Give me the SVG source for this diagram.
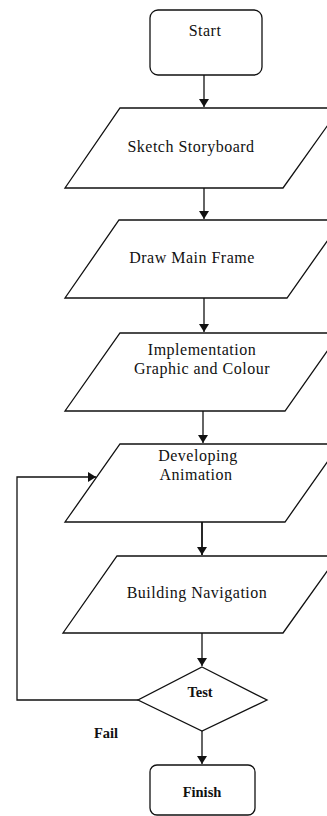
<svg xmlns="http://www.w3.org/2000/svg" width="327" height="816" viewBox="0 0 327 816">
<style>
.n{fill:#fff;stroke:#111;stroke-width:1.3}
.t{font-family:'Liberation Serif','DejaVu Serif',serif;font-size:16px;letter-spacing:0.5px;fill:#111;text-anchor:middle}
.s{font-family:'Liberation Serif','DejaVu Serif',serif;font-size:14.5px;font-weight:bold;fill:#111;text-anchor:middle}
.c{fill:none;stroke:#111;stroke-width:1.3}
</style>
<defs>
<marker id="ah" viewBox="0 0 8 10" refX="8" refY="5" markerWidth="8" markerHeight="10" markerUnits="userSpaceOnUse" orient="auto">
<path d="M0,0 L8,5 L0,10 Z" fill="#111"/>
</marker>
</defs>
<g id="connectors">
<line class="c" x1="204" y1="75" x2="204" y2="107" marker-end="url(#ah)"/>
<line class="c" x1="204" y1="188" x2="204" y2="219" marker-end="url(#ah)"/>
<line class="c" x1="204" y1="298" x2="204" y2="332" marker-end="url(#ah)"/>
<line class="c" x1="203" y1="411" x2="203" y2="443" marker-end="url(#ah)"/>
<line class="c" x1="202" y1="522" x2="202" y2="555" marker-end="url(#ah)" style="stroke-width:1.8"/>
<line class="c" x1="202" y1="633" x2="202" y2="666" marker-end="url(#ah)"/>
<line class="c" x1="202" y1="731" x2="202" y2="764" marker-end="url(#ah)"/>
<polyline class="c" points="138,700 17,700 17,477 96,477" marker-end="url(#ah)"/>
</g>
<g id="start">
<rect class="n" x="150" y="10" width="112" height="65" rx="8"/>
<text class="t" x="205" y="36">Start</text>
</g>
<g id="sketch">
<polygon class="n" points="120,108 340,108 283,188 65,188"/>
<text class="t" x="191" y="152">Sketch Storyboard</text>
</g>
<g id="draw">
<polygon class="n" points="119,220 342,220 287,298 65,298"/>
<text class="t" x="192" y="263">Draw Main Frame</text>
</g>
<g id="impl">
<polygon class="n" points="120,333 340,333 285,411 65,411"/>
<text class="t" x="202" y="355">Implementation</text>
<text class="t" x="202" y="374">Graphic and Colour</text>
</g>
<g id="dev">
<polygon class="n" points="120,444 340,444 285,522 65,522"/>
<text class="t" x="198" y="461">Developing</text>
<text class="t" x="196" y="480">Animation</text>
</g>
<g id="build">
<polygon class="n" points="117,556 338,556 283,633 63,633"/>
<text class="t" x="197" y="598">Building Navigation</text>
</g>
<g id="test">
<polygon class="n" points="202,667 267,700 202,731 138,700"/>
<text class="s" x="200" y="697">Test</text>
</g>
<text class="s" x="106" y="738">Fail</text>
<g id="finish">
<rect class="n" x="150" y="765" width="105" height="50" rx="7"/>
<text class="s" x="202" y="797">Finish</text>
</g>
</svg>
